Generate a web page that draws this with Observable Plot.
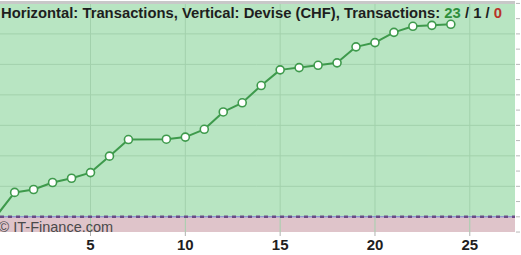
<!DOCTYPE html>
<html>
<head>
<meta charset="utf-8">
<script src="https://cdn.jsdelivr.net/npm/d3@7"></script>
<script src="https://cdn.jsdelivr.net/npm/@observablehq/plot@0.6"></script>
<style>
  html, body { margin: 0; padding: 0; background: #ffffff; }
  #chart { width: 521px; height: 255px; overflow: hidden; }
  svg { display: block; }
</style>
</head>
<body>
<div id="chart"></div>
<script>
// Transactions (horizontal) and cumulative value in CHF (vertical)
const transactions = [0, 1, 2, 3, 4, 5, 6, 7, 9, 10, 11, 12, 13, 14, 15, 16, 17, 18, 19, 20, 21, 22, 23, 24];
const deviseCHF    = [0, 800, 895, 1125, 1265, 1450, 1990, 2535, 2545, 2615, 2870, 3440, 3740, 4305, 4820, 4895, 4970, 5050, 5575, 5715, 6050, 6250, 6280, 6315];
const markerFrom = 1; // the first point (origin) has no marker
const xTicks = [5, 10, 15, 20, 25];
const yGrid = [1000, 2000, 3000, 4000, 5000, 6000, 7000];
const yMinorTicks = d3.range(-500, 7001, 500);
const xDomain = [0.254, 27.41];
const yDomain = [-515, 7030];
const titleParts = [
  {text: "Horizontal: Transactions, Vertical: Devise (CHF), Transactions: ", color: "#1e1e1e"},
  {text: "23", color: "#2f8f3c"},
  {text: " / ", color: "#1e1e1e"},
  {text: "1", color: "#1e1e1e"},
  {text: " / ", color: "#1e1e1e"},
  {text: "0", color: "#b8342a"}
];
const watermark = "© IT-Finance.com";

const data = transactions.map((t, i) => ({t, v: deviseCHF[i]}));

const chart = Plot.plot({
  width: 521,
  height: 255,
  marginTop: 2,
  marginRight: 6,
  marginBottom: 23,
  marginLeft: 0,
  x: {domain: xDomain, type: "linear", label: null},
  y: {domain: yDomain, type: "linear", label: null},
  style: {background: "#ffffff", fontFamily: "Liberation Sans, Arial, sans-serif"},
  marks: [
    // positive (green) and negative (pink) zones
    Plot.rect([0], {x1: xDomain[0], x2: xDomain[1], y1: 0, y2: yDomain[1], fill: "#b8e5c2"}),
    Plot.rect([0], {x1: xDomain[0], x2: xDomain[1], y1: yDomain[0], y2: 0, fill: "#dfc4ca"}),
    // grid
    Plot.ruleY(yGrid, {stroke: "#a2d1ac", strokeWidth: 1}),
    Plot.ruleX(xTicks, {y1: yDomain[0], y2: yDomain[1], stroke: "#a2d1ac", strokeWidth: 1}),
    // top border
    Plot.ruleY([yDomain[1]], {stroke: "#c8c8c8", strokeWidth: 3}),
    // zero line
    Plot.ruleY([0], {stroke: "#6d7fd0", strokeWidth: 1}),
    Plot.ruleY([0], {stroke: "#6a4c86", strokeWidth: 2.5, strokeDasharray: "4,4"}),
    // axes
    Plot.axisX({ticks: xTicks, tickSize: 4, tickPadding: 3, stroke: "#b0b0b0", fill: "#1e1e1e",
                fontSize: 15, fontWeight: "bold", tickFormat: d => String(d), label: null}),
    Plot.axisY({anchor: "right", ticks: yMinorTicks, tickSize: 4, tickFormat: () => "", stroke: "#b8b8b8", label: null}),
    // watermark
    Plot.text([watermark], {frameAnchor: "bottom-left", dx: -2, dy: -1, lineAnchor: "bottom",
                            textAnchor: "start", fill: "#4a4a4a", fontSize: 14.5, fontWeight: "normal"}),
    // series
    Plot.line(data, {x: "t", y: "v", stroke: "#3e9a4c", strokeWidth: 2, clip: true}),
    Plot.dot(data.slice(markerFrom), {x: "t", y: "v", r: 4, fill: "#ffffff", stroke: "#3e9a4c", strokeWidth: 1.6})
  ]
});

document.getElementById("chart").appendChild(chart);

// Title overlay with coloured counts
const svg = d3.select(chart);
const title = svg.append("text")
  .attr("x", 1)
  .attr("y", 17.5)
  .attr("text-anchor", "start")
  .attr("font-family", "Liberation Sans, Arial, sans-serif")
  .attr("font-size", 15)
  .attr("font-weight", "bold");
titleParts.forEach(p => {
  title.append("tspan").attr("fill", p.color).text(p.text);
});
// fit the title to the width it takes in the reference
const targetWidth = 501;
const natural = title.node().getComputedTextLength();
if (natural > 0) {
  title.attr("font-size", 15)
       .attr("textLength", targetWidth)
       .attr("lengthAdjust", "spacingAndGlyphs");
}
</script>
</body>
</html>
